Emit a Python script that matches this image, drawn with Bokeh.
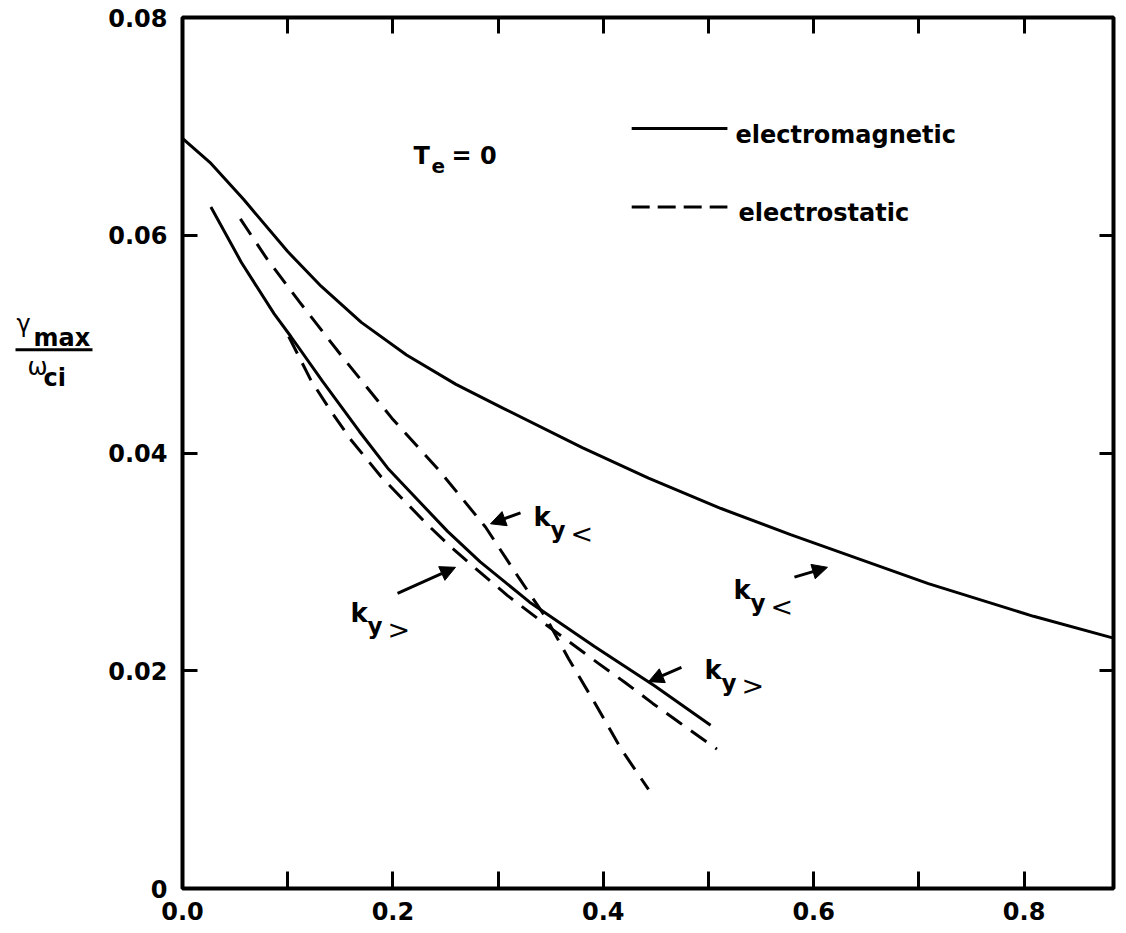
from bokeh.plotting import figure
from bokeh.layouts import row
from bokeh.models import (Range1d, LinearAxis, FixedTicker, CustomJSTickFormatter,
                          Arrow, NormalHead)
from bokeh.core.properties import value
from bokeh.embed import file_html
from bokeh.resources import INLINE

FONT = "DejaVu Sans"

# ---- data ----
# electromagnetic, k_y <  (upper solid)
em_upper_x = [0.0, 0.026, 0.058, 0.100, 0.132, 0.170, 0.213, 0.260, 0.305, 0.380, 0.443, 0.512, 0.578, 0.709, 0.809, 0.885]
em_upper_y = [0.0689, 0.0667, 0.0633, 0.0585, 0.0553, 0.0520, 0.0490, 0.0463, 0.0441, 0.0405, 0.0377, 0.0349, 0.0325, 0.0280, 0.0250, 0.0230]
# electromagnetic, k_y >  (lower solid)
em_lower_x = [0.027, 0.056, 0.087, 0.103, 0.133, 0.168, 0.196, 0.252, 0.283, 0.330, 0.392, 0.449, 0.502]
em_lower_y = [0.0626, 0.0575, 0.0528, 0.0507, 0.0466, 0.0420, 0.0385, 0.0328, 0.0300, 0.0263, 0.0222, 0.0186, 0.0150]
# electrostatic, k_y <  (steep dashed)
es_upper_x = [0.055, 0.0805, 0.111, 0.153, 0.199, 0.244, 0.288, 0.320, 0.346, 0.367, 0.394, 0.417, 0.443]
es_upper_y = [0.0615, 0.0578, 0.0539, 0.0487, 0.0432, 0.0384, 0.0332, 0.0285, 0.0248, 0.0211, 0.0167, 0.0128, 0.0091]
# electrostatic, k_y >  (dashed close to lower solid)
es_lower_x = [0.101, 0.122, 0.140, 0.161, 0.189, 0.233, 0.256, 0.281, 0.309, 0.339, 0.367, 0.395, 0.421, 0.447, 0.473, 0.508]
es_lower_y = [0.0507, 0.0467, 0.0440, 0.0411, 0.0378, 0.0334, 0.0313, 0.0292, 0.0269, 0.0247, 0.0227, 0.0207, 0.0189, 0.0170, 0.0152, 0.0128]

x_major_ticks = [0.0, 0.2, 0.4, 0.6, 0.8]
x_minor_ticks = [0.1, 0.3, 0.5, 0.7]
y_major_ticks = [0.0, 0.02, 0.04, 0.06, 0.08]

# legend
legend_labels = ["electromagnetic", "electrostatic"]
legend_line_x = [0.427, 0.518]
legend_line_y = [0.0698, 0.0626]
legend_text_x = [0.5257, 0.5285]
legend_text_y = [0.0692, 0.0620]

# T_e = 0 annotation
te_x = [0.2196]
te_y = [0.0673]

# k_y labels
ky_x = [0.3337, 0.1597, 0.4962, 0.5238]
ky_y = [0.0341, 0.0253, 0.0201, 0.0274]
ky_sym = ["<", ">", ">", "<"]

# arrows (start -> head)
arr_x0 = [0.3213, 0.2044, 0.4743, 0.5817]
arr_y0 = [0.0345, 0.0271, 0.0203, 0.0286]
arr_x1 = [0.2928, 0.2595, 0.4430, 0.6131]
arr_y1 = [0.0335, 0.0295, 0.0190, 0.0295]

# ---- main figure ----
p = figure(width=1026, height=933, output_backend="svg", toolbar_location=None,
           x_range=Range1d(0, 0.885), y_range=Range1d(0, 0.08),
           x_axis_location=None, y_axis_location=None)
p.min_border_left = 82
p.min_border_right = 13
p.min_border_top = 17
p.min_border_bottom = 45
p.outline_line_color = "black"
p.outline_line_width = 4
p.background_fill_color = "white"
p.border_fill_color = "white"
p.grid.grid_line_color = None

xt = FixedTicker(ticks=x_major_ticks, minor_ticks=x_minor_ticks)
yt = FixedTicker(ticks=y_major_ticks, minor_ticks=[])


def style(ax, tick_len):
    ax.axis_line_color = None
    ax.major_tick_in = tick_len
    ax.major_tick_out = 0
    ax.major_tick_line_width = 3
    ax.minor_tick_in = tick_len
    ax.minor_tick_out = 0
    ax.minor_tick_line_width = 3
    ax.major_label_text_font = FONT
    ax.major_label_text_font_style = "bold"
    ax.major_label_text_font_size = "24px"
    ax.major_label_text_color = "black"


bottom = LinearAxis(ticker=xt, formatter=CustomJSTickFormatter(code="return tick.toFixed(1)"))
style(bottom, 17)
bottom.major_label_standoff = 13
p.add_layout(bottom, "below")

top = LinearAxis(ticker=xt, formatter=CustomJSTickFormatter(code="return ''"))
style(top, 16)
top.major_label_text_font_size = "1px"
top.major_label_standoff = 0
p.add_layout(top, "above")

left = LinearAxis(ticker=yt, formatter=CustomJSTickFormatter(
    code="return tick == 0 ? '0' : tick.toFixed(2)"))
style(left, 15)
left.major_label_standoff = 15
p.add_layout(left, "left")

right = LinearAxis(ticker=yt, formatter=CustomJSTickFormatter(code="return ''"))
style(right, 14)
right.major_label_text_font_size = "1px"
right.major_label_standoff = 0
p.add_layout(right, "right")

# ---- curves ----
p.line(em_upper_x, em_upper_y, line_color="black", line_width=3)
p.line(em_lower_x, em_lower_y, line_color="black", line_width=3)
p.line(es_upper_x, es_upper_y, line_color="black", line_width=3, line_dash="19 11")
p.line(es_lower_x, es_lower_y, line_color="black", line_width=3, line_dash="19 11")

# ---- legend ----
p.line(legend_line_x, [legend_line_y[0]] * 2, line_color="black", line_width=3)
p.line(legend_line_x, [legend_line_y[1]] * 2, line_color="black", line_width=3, line_dash="18 8")
p.text(legend_text_x, legend_text_y, text=legend_labels, text_font=value(FONT),
       text_font_style="bold", text_font_size="24px", text_baseline="alphabetic",
       text_align="left", text_color="black")

# ---- T_e = 0 ----
p.text(te_x, te_y, text=["T"], text_font=value(FONT), text_font_style="bold",
       text_font_size="24px", text_baseline="alphabetic", text_align="left")
p.text(te_x, te_y, text=["e"], text_font=value(FONT), text_font_style="bold",
       text_font_size="20px", text_baseline="alphabetic", text_align="left",
       x_offset=18, y_offset=10)
p.text(te_x, te_y, text=["= 0"], text_font=value(FONT), text_font_style="bold",
       text_font_size="24px", text_baseline="alphabetic", text_align="left",
       x_offset=38)

# ---- k_y labels ----
p.text(ky_x, ky_y, text=["k"] * len(ky_x), text_font=value(FONT), text_font_style="bold",
       text_font_size="26px", text_baseline="alphabetic", text_align="left")
p.text(ky_x, ky_y, text=["y"] * len(ky_x), text_font=value(FONT), text_font_style="bold",
       text_font_size="23px", text_baseline="alphabetic", text_align="left",
       x_offset=17, y_offset=13)
p.text(ky_x, ky_y, text=ky_sym, text_font=value(FONT), text_font_style="normal",
       text_font_size="27px", text_baseline="alphabetic", text_align="left",
       x_offset=37, y_offset=16)

# ---- arrows ----
for xs, ys, xe, ye in zip(arr_x0, arr_y0, arr_x1, arr_y1):
    p.add_layout(Arrow(end=NormalHead(size=15, fill_color="black", line_color="black", line_width=1),
                       x_start=xs, y_start=ys, x_end=xe, y_end=ye,
                       line_color="black", line_width=3))

# ---- y-axis label panel: gamma_max / omega_ci ----
ylab = figure(width=100, height=933, output_backend="svg", toolbar_location=None,
              x_range=Range1d(0, 100), y_range=Range1d(0, 933),
              x_axis_location=None, y_axis_location=None,
              min_border=0, outline_line_color=None)
ylab.grid.grid_line_color = None
ylab.background_fill_color = "white"
ylab.border_fill_color = "white"

ylab_parts = ["γ", "max", "ω", "ci"]
ylab_bold = ["normal", "bold", "normal", "bold"]
ylab_px = [16, 33, 27, 43]
ylab_py = [605, 590, 559, 547]
for t, b, xx, yy in zip(ylab_parts, ylab_bold, ylab_px, ylab_py):
    ylab.text([xx], [yy], text=[t], text_font=value(FONT), text_font_style=b,
              text_font_size="24px", text_baseline="alphabetic", text_align="left",
              text_color="black")
ylab.line([15, 92], [577, 577], line_color="black", line_width=3)

layout = row(ylab, p, spacing=0)
open("out.html", "w").write(file_html(layout, INLINE))
